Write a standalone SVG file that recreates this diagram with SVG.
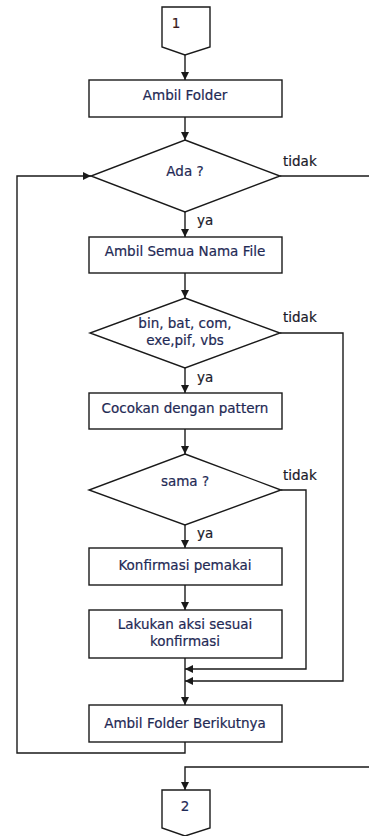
<svg xmlns="http://www.w3.org/2000/svg" width="369" height="836" viewBox="0 0 369 836">
<style>
.s{fill:#fff;stroke:#1a1a1a;stroke-width:1.4}
.c{fill:none;stroke:#1a1a1a;stroke-width:1.4}
.t{font-family:"DejaVu Sans",Verdana,sans-serif;font-size:13.5px;fill:#1f2a55;stroke:#1f2a55;stroke-width:0.2;text-anchor:middle}
.l{font-family:"DejaVu Sans",Verdana,sans-serif;font-size:13.5px;fill:#1a1a2a;stroke:#1a1a2a;stroke-width:0.2}
</style>
<defs>
<marker id="a" viewBox="0 0 10 10" refX="10" refY="5" markerWidth="8" markerHeight="8" markerUnits="userSpaceOnUse" orient="auto">
<path d="M0,0 L10,5 L0,10 Z" fill="#1a1a1a"/>
</marker>
</defs>
<rect width="369" height="836" fill="#fff"/>
<g id="connectors">
<line class="c" x1="185" y1="55" x2="185" y2="80" marker-end="url(#a)"/>
<line class="c" x1="185" y1="117" x2="185" y2="140" marker-end="url(#a)"/>
<line class="c" x1="280" y1="176" x2="369" y2="176"/>
<line class="c" x1="185" y1="212" x2="185" y2="237" marker-end="url(#a)"/>
<line class="c" x1="185" y1="273" x2="185" y2="298" marker-end="url(#a)"/>
<polyline class="c" points="280,333 343,333 343,681 185,681" marker-end="url(#a)"/>
<line class="c" x1="185" y1="368" x2="185" y2="393" marker-end="url(#a)"/>
<line class="c" x1="185" y1="429" x2="185" y2="454" marker-end="url(#a)"/>
<polyline class="c" points="281,490 306,490 306,669 185,669" marker-end="url(#a)"/>
<line class="c" x1="185" y1="525" x2="185" y2="548" marker-end="url(#a)"/>
<line class="c" x1="185" y1="585" x2="185" y2="610" marker-end="url(#a)"/>
<line class="c" x1="185" y1="658" x2="185" y2="705" marker-end="url(#a)"/>
<polyline class="c" points="185,742 185,753 17,753 17,176 91,176" marker-end="url(#a)"/>
<polyline class="c" points="369,767 185,767 185,790" marker-end="url(#a)"/>
</g>
<g id="start">
<path class="s" d="M162,7 H210 V47 L185,55 L162,47 Z"/>
<text class="t" x="176" y="28" style="fill:#3a1a1a;stroke:#3a1a1a">1</text>
</g>
<g id="ambil-folder">
<rect class="s" x="89" y="80" width="193" height="37"/>
<text class="t" x="185" y="100">Ambil Folder</text>
</g>
<g id="ada">
<path class="s" d="M185,140 L280,176 L185,212 L91,176 Z"/>
<text class="t" x="185" y="176">Ada ?</text>
<text class="l" x="283" y="166">tidak</text>
<text class="l" x="197" y="225">ya</text>
</g>
<g id="ambil-semua">
<rect class="s" x="89" y="237" width="193" height="36"/>
<text class="t" x="185" y="256">Ambil Semua Nama File</text>
</g>
<g id="ekstensi">
<path class="s" d="M185,298 L280,333 L185,368 L90,333 Z"/>
<text class="t" x="185" y="328">bin, bat, com,</text>
<text class="t" x="185" y="345">exe,pif, vbs</text>
<text class="l" x="283" y="322">tidak</text>
<text class="l" x="197" y="382">ya</text>
</g>
<g id="cocokan">
<rect class="s" x="89" y="393" width="193" height="36"/>
<text class="t" x="185" y="413">Cocokan dengan pattern</text>
</g>
<g id="sama">
<path class="s" d="M185,454 L281,490 L185,525 L89,490 Z"/>
<text class="t" x="185" y="486">sama ?</text>
<text class="l" x="283" y="480">tidak</text>
<text class="l" x="197" y="538">ya</text>
</g>
<g id="konfirmasi">
<rect class="s" x="89" y="548" width="193" height="37"/>
<text class="t" x="185" y="570">Konfirmasi pemakai</text>
</g>
<g id="lakukan">
<rect class="s" x="89" y="610" width="193" height="48"/>
<text class="t" x="185" y="629">Lakukan aksi sesuai</text>
<text class="t" x="185" y="646">konfirmasi</text>
</g>
<g id="ambil-berikutnya">
<rect class="s" x="89" y="705" width="193" height="37"/>
<text class="t" x="185" y="728">Ambil Folder Berikutnya</text>
</g>
<g id="end">
<path class="s" d="M162,790 H210 V828 L185,836 L162,828 Z"/>
<text class="t" x="185" y="811">2</text>
</g>
</svg>
